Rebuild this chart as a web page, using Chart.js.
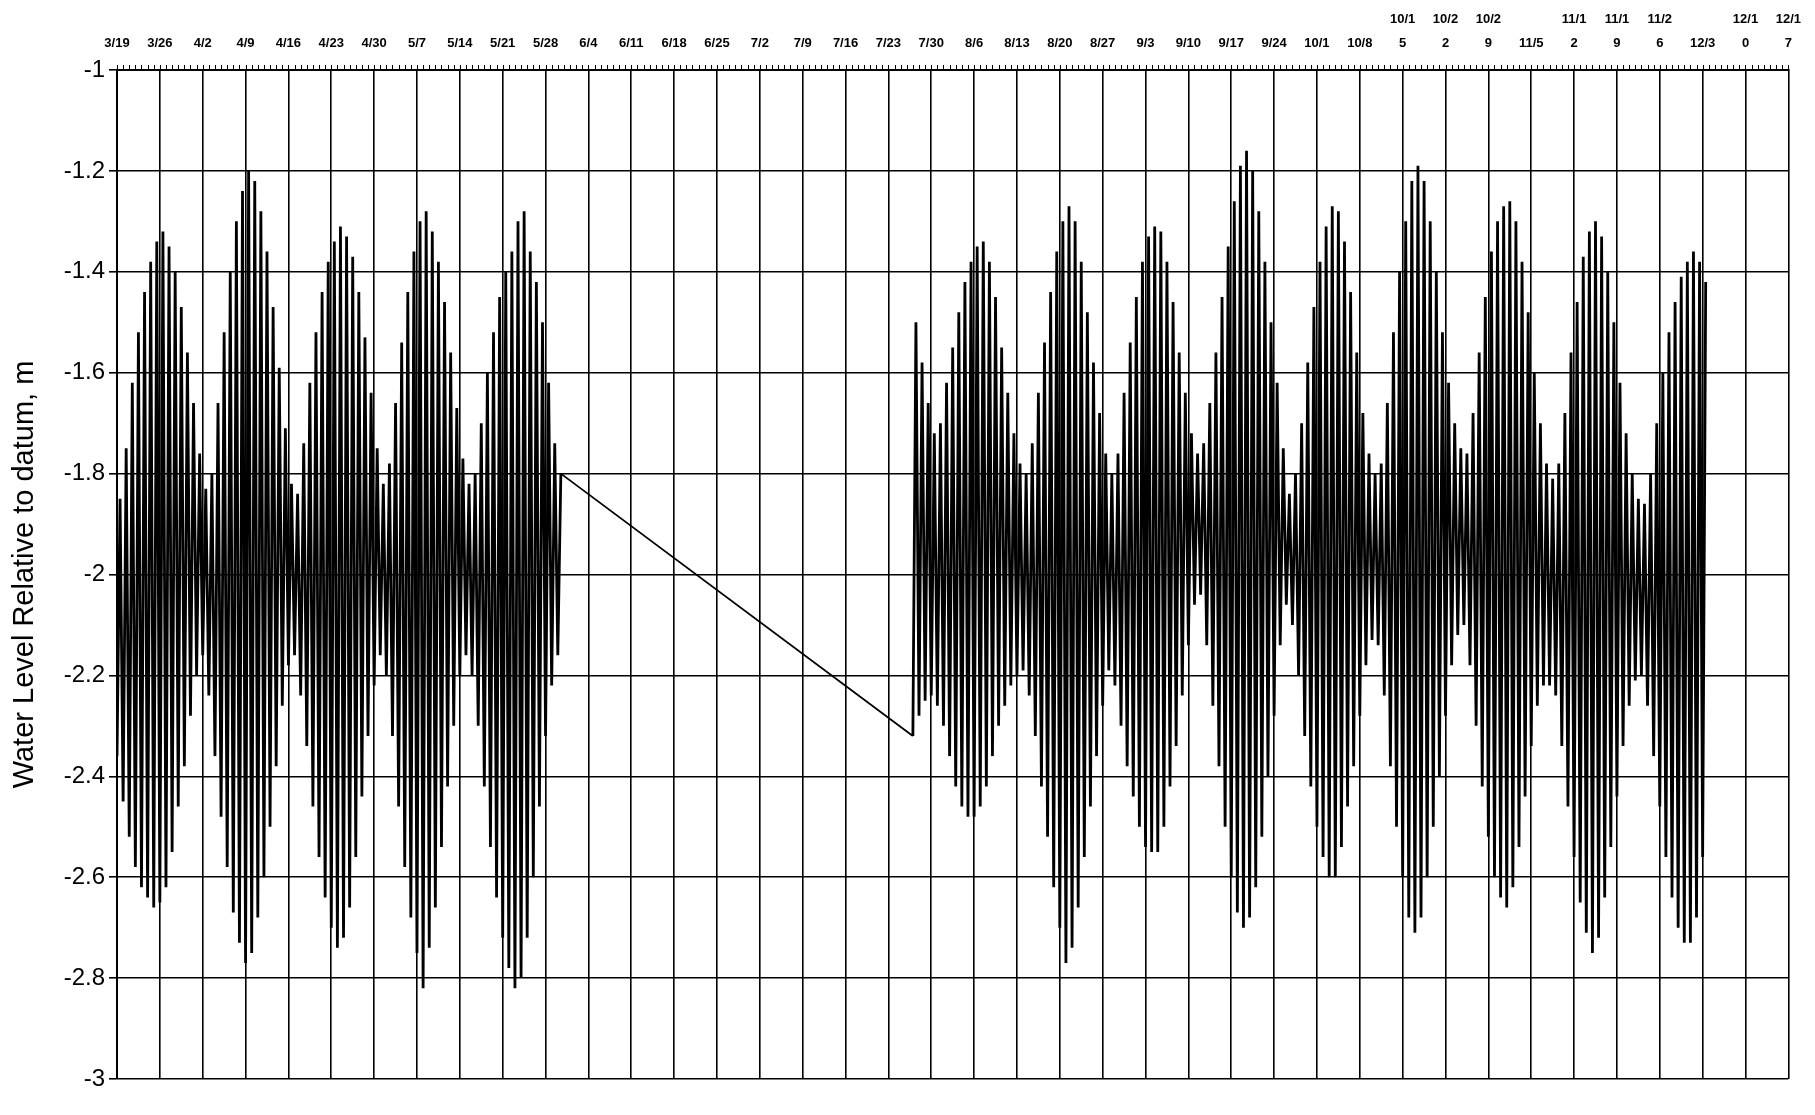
<!DOCTYPE html>
<html>
<head>
<meta charset="utf-8">
<script src="https://cdn.jsdelivr.net/npm/chart.js@4/dist/chart.umd.min.js"></script>
<style>
  html, body { margin: 0; padding: 0; background: #fff; }
  #wrap { width: 1815px; height: 1115px; position: relative; }
</style>
</head>
<body>
<div id="wrap"><canvas id="chart"></canvas></div>
<script>
// weekly tick labels along the top, 3/19 .. 12/17
const weekLabels = [
  '3/19', '3/26', '4/2', '4/9', '4/16', '4/23', '4/30', '5/7', '5/14', '5/21',
  '5/28', '6/4', '6/11', '6/18', '6/25', '7/2', '7/9', '7/16', '7/23', '7/30',
  '8/6', '8/13', '8/20', '8/27', '9/3', '9/10', '9/17', '9/24', '10/1', '10/8',
  ['10/1', '5'], ['10/2', '2'], ['10/2', '9'], '11/5', ['11/1', '2'], ['11/1', '9'],
  ['11/2', '6'], '12/3', ['12/1', '0'], ['12/1', '7']
]
const yTickLabels = ['-1', '-1.2', '-1.4', '-1.6', '-1.8', '-2', '-2.2', '-2.4', '-2.6', '-2.8', '-3']

// first record: daily low / high, day 0 = 3/19
const seg1Start = 0
const seg1Low = [
  -2.36, -2.45, -2.52, -2.58, -2.62, -2.64, -2.66, -2.65, -2.62, -2.55, -2.46, -2.38, -2.28, -2.20, -2.16,
  -2.24, -2.36, -2.48, -2.58, -2.67, -2.73, -2.77, -2.75, -2.68, -2.60, -2.50, -2.38, -2.26, -2.18,
  -2.16, -2.24, -2.34, -2.46, -2.56, -2.64, -2.70, -2.74, -2.72, -2.66, -2.56, -2.44, -2.32, -2.22, -2.16,
  -2.20, -2.32, -2.46, -2.58, -2.68, -2.75, -2.82, -2.74, -2.66, -2.54, -2.42, -2.30, -2.20, -2.16,
  -2.20, -2.30, -2.42, -2.54, -2.64, -2.72, -2.78, -2.82, -2.80, -2.72, -2.60, -2.46, -2.32, -2.22, -2.16
]
const seg1High = [
  -1.85, -1.75, -1.62, -1.52, -1.44, -1.38, -1.34, -1.32, -1.35, -1.40, -1.47, -1.56, -1.66, -1.76, -1.83,
  -1.80, -1.66, -1.52, -1.40, -1.30, -1.24, -1.20, -1.22, -1.28, -1.36, -1.47, -1.59, -1.71, -1.82,
  -1.84, -1.74, -1.62, -1.52, -1.44, -1.38, -1.34, -1.31, -1.33, -1.37, -1.44, -1.53, -1.64, -1.75, -1.82,
  -1.78, -1.66, -1.54, -1.44, -1.36, -1.30, -1.28, -1.32, -1.38, -1.46, -1.56, -1.67, -1.77, -1.82,
  -1.80, -1.70, -1.60, -1.52, -1.45, -1.40, -1.36, -1.30, -1.28, -1.36, -1.42, -1.50, -1.62, -1.74, -1.80
]

// second record after the gap, starts 7/27 (day 130)
const seg2Start = 130
const seg2Low = [
  -2.32, -2.28, -2.25, -2.24, -2.26, -2.30, -2.36, -2.42, -2.46, -2.48,
  -2.48, -2.46, -2.42, -2.36, -2.30, -2.26, -2.22, -2.20, -2.19, -2.24,
  -2.32, -2.42, -2.52, -2.62, -2.70, -2.77, -2.74, -2.66, -2.56, -2.46,
  -2.36, -2.26, -2.19, -2.22, -2.30, -2.38, -2.44, -2.50, -2.54, -2.55,
  -2.55, -2.50, -2.42, -2.34, -2.24, -2.14, -2.06, -2.04, -2.14, -2.26,
  -2.38, -2.50, -2.60, -2.67, -2.70, -2.68, -2.62, -2.52, -2.40, -2.28,
  -2.14, -2.06, -2.10, -2.20, -2.32, -2.42, -2.50, -2.56, -2.60, -2.60,
  -2.54, -2.46, -2.38, -2.28, -2.18, -2.13, -2.14, -2.24, -2.38, -2.50,
  -2.60, -2.68, -2.71, -2.68, -2.60, -2.50, -2.40, -2.28, -2.18, -2.12,
  -2.10, -2.18, -2.30, -2.42, -2.52, -2.60, -2.64, -2.66, -2.62, -2.54,
  -2.44, -2.34, -2.26, -2.22, -2.22, -2.24, -2.34, -2.46, -2.56, -2.65,
  -2.71, -2.75, -2.72, -2.64, -2.54, -2.44, -2.34, -2.26, -2.21, -2.20,
  -2.26, -2.36, -2.46, -2.56, -2.64, -2.70, -2.73, -2.73, -2.68, -2.56
]
const seg2High = [
  -1.50, -1.58, -1.66, -1.72, -1.70, -1.62, -1.55, -1.48, -1.42, -1.38,
  -1.35, -1.34, -1.38, -1.45, -1.55, -1.64, -1.72, -1.78, -1.80, -1.74,
  -1.64, -1.54, -1.44, -1.36, -1.30, -1.27, -1.30, -1.38, -1.48, -1.58,
  -1.68, -1.76, -1.80, -1.76, -1.64, -1.54, -1.45, -1.38, -1.33, -1.31,
  -1.32, -1.38, -1.46, -1.56, -1.64, -1.72, -1.76, -1.74, -1.66, -1.56,
  -1.45, -1.35, -1.26, -1.19, -1.16, -1.20, -1.28, -1.38, -1.50, -1.62,
  -1.75, -1.84, -1.80, -1.70, -1.58, -1.47, -1.38, -1.31, -1.27, -1.28,
  -1.34, -1.44, -1.56, -1.68, -1.76, -1.80, -1.78, -1.66, -1.52, -1.40,
  -1.30, -1.22, -1.19, -1.22, -1.30, -1.40, -1.52, -1.62, -1.70, -1.75,
  -1.76, -1.68, -1.56, -1.45, -1.36, -1.30, -1.27, -1.26, -1.30, -1.38,
  -1.48, -1.60, -1.70, -1.78, -1.81, -1.78, -1.68, -1.56, -1.46, -1.37,
  -1.32, -1.30, -1.33, -1.40, -1.50, -1.62, -1.72, -1.80, -1.85, -1.86,
  -1.80, -1.70, -1.60, -1.52, -1.46, -1.41, -1.38, -1.36, -1.38, -1.42
]

// low then high each day, so the trace zigzags
function tracePoints (start, lows, highs) {
  const pts = []
  for (let i = 0; i < lows.length; i++) {
    pts.push({ x: start + i, y: lows[i] })
    pts.push({ x: start + i + 0.5, y: highs[i] })
  }
  return pts
}

// both records in one dataset so the gap is bridged by a straight line
const points = tracePoints(seg1Start, seg1Low, seg1High).concat(tracePoints(seg2Start, seg2Low, seg2High))

// small daily ticks along the top border
const minorTicks = {
  id: 'minorTicks',
  afterDraw (chart) {
    const x = chart.scales.x
    const top = chart.chartArea.top
    const ctx = chart.ctx
    ctx.save()
    ctx.strokeStyle = '#000'
    ctx.lineWidth = 1
    ctx.beginPath()
    for (let d = x.min; d <= x.max; d++) {
      const px = Math.round(x.getPixelForValue(d)) + 0.5
      ctx.moveTo(px, top - 5)
      ctx.lineTo(px, top)
    }
    ctx.stroke()
    ctx.restore()
  }
}

const config = {
  type: 'line',
  data: {
    datasets: [{
      label: 'Water level',
      data: points,
      borderColor: '#000',
      borderWidth: 2.8,
      pointRadius: 0,
      tension: 0,
      fill: false,
      // the long bridge across the gap is a thinner stroke
      segment: {
        borderWidth: (ctx) => (ctx.p1.parsed.x - ctx.p0.parsed.x > 1 ? 1.8 : 2.8)
      }
    }]
  },
  options: {
    responsive: true,
    maintainAspectRatio: false,
    animation: false,
    parsing: false,
    layout: { padding: { top: 0, right: 23, bottom: 36, left: 0 } },
    plugins: {
      legend: { display: false },
      tooltip: { enabled: false }
    },
    scales: {
      x: {
        type: 'linear',
        position: 'top',
        min: 0,
        max: 273,
        afterFit (scale) { scale.height = 70 },
        grid: { color: '#000', lineWidth: 1.6, drawTicks: false },
        border: { color: '#000', width: 2 },
        ticks: {
          stepSize: 7,
          autoSkip: false,
          maxRotation: 0,
          padding: 14,
          color: '#000',
          font: { family: 'Liberation Sans', size: 13, weight: 'bold', lineHeight: 1.9 },
          callback: (v) => weekLabels[Math.round(v / 7)]
        }
      },
      y: {
        type: 'linear',
        min: -3,
        max: -1,
        afterFit (scale) { scale.width = 117 },
        grid: { color: '#000', lineWidth: 1.6, tickLength: 8 },
        border: { color: '#000', width: 2 },
        ticks: {
          stepSize: 0.2,
          padding: 4,
          color: '#000',
          font: { family: 'Liberation Sans', size: 24 },
          callback: (v, i, ticks) => yTickLabels[ticks.length - 1 - i]
        },
        title: {
          display: true,
          text: 'Water Level Relative to datum, m',
          color: '#000',
          padding: { top: 8, bottom: 0 },
          font: { family: 'Liberation Sans', size: 29, lineHeight: 1.2 }
        }
      }
    }
  },
  plugins: [minorTicks]
}

new Chart(document.getElementById('chart'), config)
</script>
</body>
</html>
